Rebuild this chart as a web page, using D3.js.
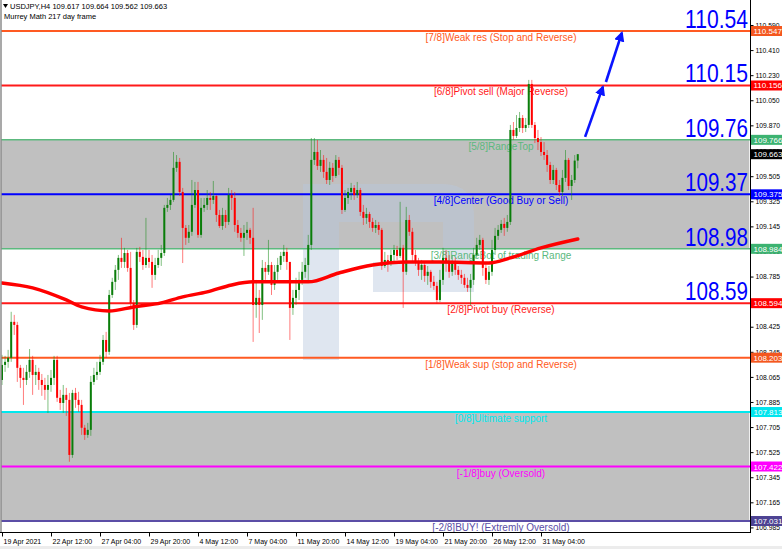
<!DOCTYPE html>
<html><head><meta charset="utf-8">
<script src="https://cdn.jsdelivr.net/npm/d3@7"></script>
<style>html,body{margin:0;padding:0;background:#fff;overflow:hidden}svg{display:block;font-family:"Liberation Sans",Arial,sans-serif}</style>
</head><body><svg id="c" width="782" height="549"></svg>
<script>
// ---------------- DATA ----------------
const headerLine1 = "USDJPY,H4  109.617 109.664 109.562 109.663";
const headerLine2 = "Murrey Math 217 day frame";
const firstOpen = 108.043;
const closes = [108.151,108.173,108.202,108.460,108.438,108.130,108.058,108.043,108.101,108.187,
108.079,108.101,108.043,108.007,107.972,108.007,108.058,108.187,107.915,107.878,
107.936,107.900,107.505,107.950,107.900,107.864,107.700,107.649,107.685,108.029,
108.079,108.101,108.173,108.330,108.245,108.653,108.747,108.833,108.919,108.890,
108.954,108.847,108.595,108.438,108.962,108.926,108.868,108.919,108.890,108.797,
108.868,108.919,108.954,109.278,109.299,109.335,109.565,109.608,109.392,109.134,
109.063,109.106,109.299,109.406,109.084,109.278,109.299,109.349,109.335,109.363,
109.227,109.148,109.227,109.177,109.370,109.349,109.155,109.098,109.063,109.098,
109.120,109.063,108.581,108.632,108.581,108.847,108.819,108.868,108.725,108.819,
108.868,108.933,108.962,108.890,108.560,108.632,108.689,108.761,108.819,108.868,
109.012,109.622,109.679,109.579,109.622,109.536,109.478,109.565,109.507,109.622,
109.565,109.263,109.349,109.392,109.421,109.370,109.406,109.249,109.206,109.234,
109.177,109.134,109.155,109.120,108.861,108.904,108.875,108.940,108.976,108.933,
108.991,108.819,109.191,109.106,108.940,108.890,108.833,108.868,108.790,108.819,
108.747,108.718,108.617,108.761,108.919,108.890,108.819,108.890,108.833,108.797,
108.776,108.725,108.704,108.761,108.940,109.012,109.048,108.847,108.761,108.819,
108.976,109.077,109.120,109.163,109.134,109.177,109.837,109.794,109.851,109.923,
109.851,109.873,110.167,109.873,109.779,109.750,109.679,109.657,109.586,109.478,
109.550,109.442,109.392,109.493,109.622,109.435,109.478,109.617,109.663];
const highs = [108.223,108.216,108.259,108.532,108.510,108.460,108.151,108.130,108.151,108.265,
108.216,108.151,108.130,108.086,108.058,108.079,108.115,108.216,108.216,107.972,
108.007,107.986,107.950,107.972,107.986,107.958,107.900,107.721,107.735,108.072,
108.130,108.173,108.223,108.366,108.388,108.689,108.776,108.868,108.940,109.063,
108.991,108.976,108.962,108.617,108.991,108.998,108.976,109.206,108.976,108.940,
108.919,108.976,109.012,109.299,109.349,109.370,109.679,109.657,109.636,109.421,
109.155,109.155,109.478,109.464,109.464,109.349,109.349,109.406,109.392,109.471,
109.370,109.263,109.278,109.263,109.421,109.406,109.392,109.191,109.134,109.155,
109.177,109.134,109.278,108.761,108.689,108.904,108.890,109.048,108.890,108.868,
108.919,108.962,109.012,108.991,108.890,108.689,108.776,108.819,108.890,108.919,
109.084,109.779,109.779,109.765,109.693,109.657,109.636,109.608,109.600,109.657,
109.643,109.586,109.406,109.421,109.457,109.442,109.464,109.421,109.299,109.278,
109.249,109.206,109.191,109.177,109.134,108.962,108.940,108.976,109.012,109.005,
109.321,109.012,109.285,109.227,109.134,108.976,108.919,108.904,108.890,108.861,
108.833,108.790,108.747,108.833,108.991,108.976,108.940,108.933,108.919,108.861,
108.833,108.804,108.776,108.804,108.991,109.063,109.084,109.063,108.890,108.861,
109.048,109.134,109.155,109.191,109.206,109.227,109.873,109.894,109.944,109.966,
109.944,109.923,110.196,110.196,109.894,109.837,109.786,109.750,109.693,109.608,
109.586,109.565,109.478,109.550,109.693,109.636,109.514,109.657,109.664];
const lows = [108.007,108.101,108.130,108.173,108.366,108.029,107.986,107.864,108.007,108.058,
107.936,108.007,107.972,107.929,107.900,107.806,107.958,108.007,107.886,107.828,
107.806,107.785,107.456,107.484,107.843,107.814,107.649,107.613,107.628,107.642,
108.007,108.043,108.079,108.151,108.202,108.223,108.632,108.689,108.761,108.847,
108.847,108.819,108.574,108.402,108.417,108.890,108.833,108.847,108.847,108.704,
108.761,108.847,108.861,108.933,109.249,109.263,109.321,109.536,109.363,108.882,
109.012,109.026,109.077,109.278,109.063,109.063,109.249,109.263,109.263,109.306,
109.177,109.134,109.120,109.134,109.155,109.263,109.106,109.063,109.034,108.933,
109.048,109.019,108.316,108.489,108.380,108.474,108.761,108.797,108.653,108.689,
108.761,108.833,108.890,108.833,108.330,108.510,108.581,108.617,108.725,108.776,
108.747,108.976,109.586,109.550,109.536,109.493,109.449,109.442,109.464,109.493,
109.514,109.234,109.249,109.306,109.335,109.335,109.349,109.220,109.155,109.163,
109.134,109.106,109.098,109.084,108.833,108.847,108.819,108.861,108.890,108.904,
108.919,108.560,108.797,109.077,108.890,108.861,108.790,108.761,108.747,108.725,
108.704,108.689,108.588,108.603,108.725,108.819,108.776,108.790,108.797,108.761,
108.732,108.704,108.675,108.581,108.725,108.919,108.976,108.790,108.732,108.725,
108.790,108.940,109.048,109.098,109.077,109.106,109.155,109.765,109.779,109.822,
109.815,109.822,109.851,109.851,109.743,109.693,109.650,109.622,109.536,109.449,
109.449,109.406,109.363,109.363,109.464,109.406,109.335,109.457,109.562];

// moving average (bar index, value)
const maBars   = [0,10,21,26,35,43,52,59,67,75,82,94,100,110,121,132,143,159,166,176,188];
const maValues = [108.739,108.704,108.617,108.567,108.538,108.567,108.596,108.639,108.675,108.725,
108.747,108.747,108.747,108.811,108.868,108.890,108.890,108.883,108.919,108.991,109.055];

// time axis
const timeLabels = ["19 Apr 2021","22 Apr 12:00","27 Apr 04:00","29 Apr 20:00","4 May 12:00","7 May 04:00",
"11 May 20:00","14 May 12:00","19 May 04:00","21 May 20:00","26 May 12:00","31 May 04:00"];
const timeLabelBars = [0,16,32,48,64,80,96,112,128,144,160,176];

// price axis
const priceTicks = [110.590,110.410,110.230,110.050,109.870,109.685,109.505,109.325,109.145,108.965,
108.785,108.605,108.425,108.245,108.065,107.885,107.705,107.525,107.345,107.165,106.985];

// Murrey levels
const levelKeys   = ["p7","p6","p5","p4","p3","p2","p1","p0","m1","m2"];
const levelValues = [110.547,110.156,109.766,109.375,108.984,108.594,108.203,107.813,107.422,107.031];
const levelTexts  = ["[7/8]Weak res (Stop and Reverse)","[6/8]Pivot sell (Major Reverse)","[5/8]RangeTop",
"[4/8]Center (Good Buy or Sell)","[3/8]RangeBot of trading Range","[2/8]Pivot buy (Reverse)",
"[1/8]Weak sup (stop and Reverse)","[0/8]Ultimate support","[-1/8]buy (Oversold)","[-2/8]BUY! (Extremly Oversold)"];
const bigLabelTexts = ["110.54","110.15","109.76","109.37","108.98","108.59"];
const lastPrice = 109.663;

// forecast arrows: [fromBar, fromPrice, toBar, toPrice]
const arrowsData = [[190.4,109.787,196.2,110.146],[197.2,110.181,202.4,110.533]];

// ---------------- STYLE ----------------
const levelColor = {p7:"#ff5a22",p6:"#ff1a1a",p5:"#5cb97e",p4:"#0000ff",p3:"#5cb97e",
  p2:"#ff1a1a",p1:"#ff5a22",p0:"#00e8ee",m1:"#ff00ff",m2:"#5b4ea6"};
const boxColor = {p7:"#f4571f",p6:"#ff0000",p5:"#3cb371",p4:"#0000ff",p3:"#3cb371",
  p2:"#ff0000",p1:"#f4571f",p0:"#00e5ee",m1:"#ff00ff",m2:"#4d4393"};

// ---------------- DRAW ----------------
const W = 782, H = 549;
const x = d3.scaleLinear().domain([0,244]).range([2,749.25]);
const y = d3.scaleLinear().domain([107.031,110.547]).range([521,31]);
const svg = d3.select("#c");
svg.append("rect").attr("width",W).attr("height",H).attr("fill","#fff");
svg.append("rect").attr("x",0).attr("y",546).attr("width",W).attr("height",3).attr("fill","#ececec");

svg.append("clipPath").attr("id","clip").append("rect").attr("x",1).attr("y",0).attr("width",749).attr("height",532);
const plot = svg.append("g").attr("clip-path","url(#clip)");

// gray zones
const zones = [[levelValues[2],levelValues[4]],[levelValues[7],levelValues[9]]];
plot.selectAll("rect.zone").data(zones).join("rect").attr("class","zone")
  .attr("x",x(0)-2).attr("width",x(244)-x(0)+2)
  .attr("y",d=>y(d[0])).attr("height",d=>y(d[1])-y(d[0])).attr("fill","#c0c0c0");

// watermark logo
const wm = plot.append("g").attr("fill","rgb(185,200,222)").attr("fill-opacity",0.45);
wm.append("path").attr("d","M303,184 H442 Q474,184 474,216 V292 H443 V222 H339 V360 H303 Z");
wm.append("rect").attr("x",373).attr("y",262).attr("width",70).attr("height",30);

// level lines
plot.selectAll("line.lvl").data(levelValues).join("line").attr("class","lvl")
  .attr("x1",0).attr("x2",750).attr("y1",d=>y(d)).attr("y2",d=>y(d))
  .attr("stroke",(d,i)=>levelColor[levelKeys[i]])
  .attr("stroke-width",(d,i)=> (levelKeys[i]==="p5"||levelKeys[i]==="p3")?1.5:2);

// level texts
plot.selectAll("text.lvl").data(levelValues).join("text").attr("class","lvl")
  .attr("x",501).attr("y",d=>y(d)+10).attr("text-anchor","middle").attr("font-size",10)
  .attr("fill",(d,i)=>levelColor[levelKeys[i]]).text((d,i)=>levelTexts[i]);

// candles
const bars = closes.map((c,i)=>({i, o: i===0?firstOpen:closes[i-1], h: highs[i], l: lows[i], c}));
const cg = plot.append("g");
cg.selectAll("line").data(bars).join("line")
  .attr("x1",d=>x(d.i)).attr("x2",d=>x(d.i))
  .attr("y1",d=>y(Math.max(d.h,d.o,d.c))).attr("y2",d=>y(Math.min(d.l,d.o,d.c)))
  .attr("stroke",d=>d.c>=d.o?"#1a8c1a":"#ff1010").attr("stroke-opacity",0.55).attr("stroke-width",1);
cg.selectAll("rect").data(bars).join("rect")
  .attr("x",d=>x(d.i)-1).attr("width",2)
  .attr("y",d=>y(Math.max(d.o,d.c)))
  .attr("height",d=>Math.max(1,Math.abs(y(d.o)-y(d.c))))
  .attr("fill",d=>d.c>=d.o?"#0a7d0a":"#ff0000");

// moving average
const maPts = maBars.map((b,i)=>[b,maValues[i]]);
plot.append("path").datum(maPts)
  .attr("d",d3.line().x(d=>x(d[0])).y(d=>y(d[1])).curve(d3.curveMonotoneX))
  .attr("fill","none").attr("stroke","#ff0000").attr("stroke-width",3.5).attr("stroke-linecap","round");

// big blue labels
plot.selectAll("text.big").data(bigLabelTexts).join("text").attr("class","big")
  .attr("x",748).attr("y",(d,i)=>y(levelValues[i])-3).attr("text-anchor","end")
  .attr("font-size",25).attr("fill","#0000ff")
  .attr("textLength",63).attr("lengthAdjust","spacingAndGlyphs").text(d=>d);

// arrows
const defs = svg.append("defs");
defs.append("marker").attr("id","ah").attr("viewBox","0 0 10 10").attr("refX",8).attr("refY",5)
  .attr("markerWidth",4).attr("markerHeight",4).attr("orient","auto")
  .append("path").attr("d","M0,0 L10,5 L0,10 Z").attr("fill","#0a14ff");
plot.selectAll("line.arr").data(arrowsData).join("line").attr("class","arr")
  .attr("x1",d=>x(d[0])).attr("y1",d=>y(d[1])).attr("x2",d=>x(d[2])).attr("y2",d=>y(d[3]))
  .attr("stroke","#0a14ff").attr("stroke-width",2.6).attr("marker-end","url(#ah)");

// frame
svg.append("line").attr("x1",1).attr("x2",1).attr("y1",0).attr("y2",532).attr("stroke","#8c8c8c").attr("stroke-width",1.5);
svg.append("line").attr("x1",0).attr("x2",750.5).attr("y1",532.5).attr("y2",532.5).attr("stroke","#000");
svg.append("line").attr("x1",750.5).attr("x2",750.5).attr("y1",0).attr("y2",533).attr("stroke","#000");

// right price boxes (values)
const boxes = levelValues.map((v,i)=>({v, fill: boxColor[levelKeys[i]]}));
boxes.push({v:lastPrice, fill:"#000"});

// right price axis (labels fully covered by a price box are not drawn)
const visibleTicks = priceTicks.filter(t => !boxes.some(b => Math.abs(y(b.v)-y(t)) < 2));
const ra = svg.append("g").attr("transform","translate(750.5,0)")
  .call(d3.axisRight(y).tickValues(visibleTicks).tickSize(3).tickPadding(2).tickFormat(d3.format(".3f")));
ra.select(".domain").remove();
ra.selectAll("text").attr("font-size",6.8).attr("font-family","Liberation Sans, Arial, sans-serif").attr("fill","#000");
ra.selectAll("line").attr("stroke","#000");

// bottom time axis
const ba = svg.append("g").attr("transform","translate(0,532.5)")
  .call(d3.axisBottom(x).tickValues(timeLabelBars).tickSize(4).tickFormat((d,i)=>timeLabels[i]));
ba.select(".domain").remove();
ba.selectAll("text").attr("font-size",7).attr("text-anchor","start").attr("dx",1)
  .attr("font-family","Liberation Sans, Arial, sans-serif").attr("fill","#000");
ba.selectAll("line").attr("stroke","#000");

const bg = svg.append("g");
bg.selectAll("rect").data(boxes).join("rect")
  .attr("x",751).attr("y",d=>y(d.v)-5).attr("width",32).attr("height",10).attr("fill",d=>d.fill);
bg.selectAll("text").data(boxes).join("text")
  .attr("x",753.5).attr("y",d=>y(d.v)+3).attr("font-size",8).attr("fill","#fff")
  .text(d=>d3.format(".3f")(d.v));

// header
svg.append("path").attr("d","M3,4 L8,4 L5.5,8 Z").attr("fill","#000");
svg.append("text").attr("x",10).attr("y",9).attr("font-size",7.5).attr("fill","#000").text(headerLine1);
svg.append("text").attr("x",4).attr("y",19).attr("font-size",7.5).attr("fill","#000").text(headerLine2);
</script></body></html>
